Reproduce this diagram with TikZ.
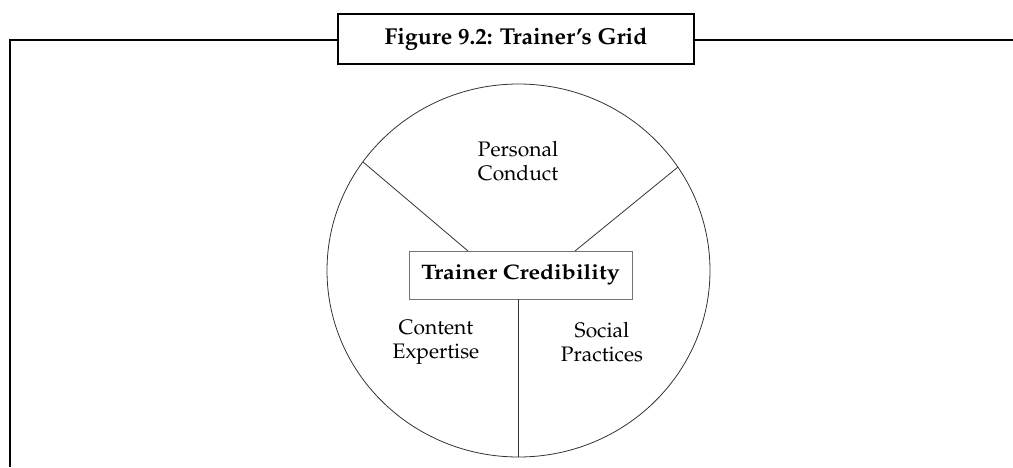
\documentclass[tikz,border=0pt]{standalone}
\usepackage[T1]{fontenc}
\usepackage{mathpazo}
\usepackage{graphicx}
\usetikzlibrary{calc}
\begin{document}
\begin{tikzpicture}[x=1pt,y=-1pt,
  frame/.style={line width=2pt,black},
  thin/.style={line width=0.8pt,black!80},
  lbl/.style={align=center,font=\fontsize{21}{24}\selectfont},
  titlebox/.style={draw,line width=2pt,minimum width=356pt,minimum height=50pt,inner sep=0pt,font=\bfseries\fontsize{23}{26}\selectfont},
  centerbox/.style={draw=black!55,line width=0.9pt,minimum width=223pt,minimum height=48pt,inner sep=0pt,font=\bfseries\fontsize{21}{24}\selectfont}]
\useasboundingbox (0,0) rectangle (1013,467);
% title and frame
\node[titlebox] (title) at (516,39) {Figure 9.2: Trainer's Grid};
\coordinate (tl) at (10,40);
\coordinate (bl) at (10,467);
\coordinate (tr) at (1013,40);
\draw[frame] (title.west |- tl) -- (tl) -- (bl);
\draw[frame] (title.east |- tr) -- (tr);
% circle
\draw[thin] (518.5,270.5) ellipse [x radius=191.5pt, y radius=186.5pt];
% center box
\node[centerbox] (tc) at (520.5,275) {\scalebox{1.1}[1]{Trainer Credibility}};
\coordinate (a1) at (468,251);
\coordinate (a2) at (363,162);
\coordinate (b1) at (575,251);
\coordinate (b2) at (678,167);
\coordinate (c1) at (518,299);
\coordinate (c2) at (518,457);
\draw[thin] (a1) -- (a2);
\draw[thin] (b1) -- (b2);
\draw[thin] (c1) -- (c2);
% labels
\node[lbl] (pc) at (518,161) {Personal\\Conduct};
\node[lbl] (ce) at (436,342) {Content\\Expertise};
\node[lbl] (sp) at (602,342) {Social\\Practices};
\end{tikzpicture}
\end{document}
